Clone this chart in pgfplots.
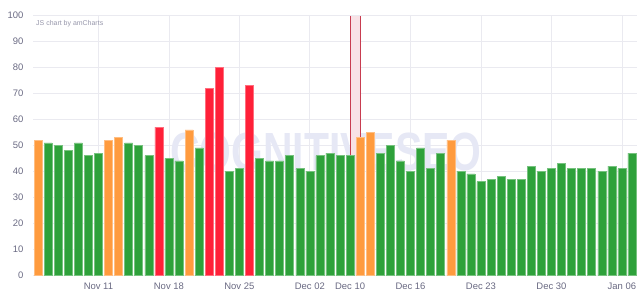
\documentclass[border=0pt]{standalone}
\usepackage{pgfplots}
\pgfplotsset{compat=1.18}
\usepackage{fontspec}
\setmainfont{Liberation Sans}
\definecolor{gbar}{RGB}{46,161,58}
\definecolor{obar}{RGB}{255,155,62}
\definecolor{rbar}{RGB}{255,32,56}
\definecolor{txt}{RGB}{105,105,130}
\definecolor{jsc}{RGB}{150,150,170}
\definecolor{gridc}{RGB}{234,234,240}
\definecolor{wm}{RGB}{230,232,245}
\definecolor{hl}{RGB}{248,226,230}
\definecolor{hlline}{RGB}{200,60,80}
\begin{document}
\begin{tikzpicture}
\begin{axis}[
  set layers,
  scale only axis, width=604bp, height=259.3bp,
  at={(0,0)}, anchor=south west,
  xmin=-0.5, xmax=59.5, ymin=0, ymax=100,
  axis line style={draw=none},
  major tick length=0pt,
  ytick={0,10,...,100},
  xtick={6,13,20,27,31,37,44,51,58},
  xticklabels={Nov 11,Nov 18,Nov 25,Dec 02,Dec 10,Dec 16,Dec 23,Dec 30,Jan 06},
  grid=major, major grid style={draw=gridc, line width=0.7bp},
  tick label style={font=\fontsize{9.5}{11}\selectfont, text=txt},
  /pgf/number format/assume math mode=true,
  yticklabel style={xshift=-6bp},
  xticklabel style={yshift=-4bp},
  clip=false,
]
\begin{pgfonlayer}{pre main}
\node[text=wm, font=\fontsize{54}{54}\selectfont\bfseries, xscale=0.76, inner sep=0] at (axis cs:28.6,47.3) {COGNITIVESEO};
\end{pgfonlayer}
\addplot[fill=hl, draw=none] coordinates {(31,100) (32,100)} \closedcycle;
\addplot[draw=hlline, line width=0.7bp] coordinates {(31,0) (31,100)};
\addplot[draw=hlline, line width=0.7bp] coordinates {(32,0) (32,100)};
\addplot[ybar, bar width=8bp, bar shift=0pt, fill=gbar, draw=gbar!65!white, line width=0.5bp] coordinates {
(1,51)(2,50)(3,48)(4,51)(5,46)(6,47)(9,51)(10,50)(11,46)(13,45)(14,44)(16,49)(19,40)(20,41)(22,45)(23,44)(24,44)(25,46)(26,41)(27,40)(28,46)(29,47)(30,46)(31,46)(34,47)(35,50)(36,44)(37,40)(38,49)(39,41)(40,47)(42,40)(43,39)(44,36)(45,37)(46,38)(47,37)(48,37)(49,42)(50,40)(51,41)(52,43)(53,41)(54,41)(55,41)(56,40)(57,42)(58,41)(59,47)
};
\addplot[ybar, bar width=8bp, bar shift=0pt, fill=obar, draw=obar!65!white, line width=0.5bp] coordinates {
(0,52)(7,52)(8,53)(15,56)(32,53)(33,55)(41,52)
};
\addplot[ybar, bar width=8bp, bar shift=0pt, fill=rbar, draw=rbar!65!white, line width=0.5bp] coordinates {
(12,57)(17,72)(18,80)(21,73)
};
\node[anchor=west, font=\fontsize{7}{8}\selectfont, text=jsc, inner sep=0] at ([xshift=3bp,yshift=-8bp]rel axis cs:0,1) {JS chart by amCharts};
\end{axis}
\path (-33bp,-23bp) rectangle (607bp,275bp);
\end{tikzpicture}
\end{document}
